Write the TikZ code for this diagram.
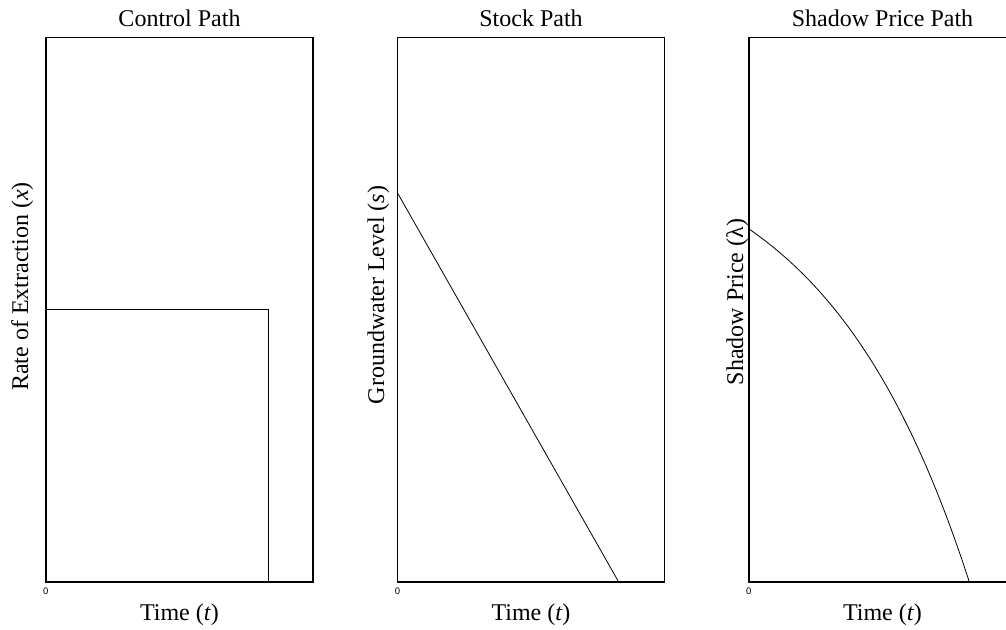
\documentclass[tikz,border=0pt]{standalone}
\usepackage{fontspec}
\setmainfont{Liberation Serif}
\newfontfamily\ticksans{Liberation Sans}
\begin{document}
\begin{tikzpicture}[x=1pt,y=-1pt,
  frame/.style={line width=1.3pt},
  curve/.style={line width=0.8pt},
  lbl/.style={inner sep=0pt, font=\fontsize{24}{28}\selectfont},
  tick/.style={inner sep=0pt, font=\ticksans\fontsize{9.5}{11}\selectfont}]
\useasboundingbox (0,0) rectangle (1006,629);
% frames
\draw[frame] (46,37.5) rectangle (313,582);
\draw[frame] (397.7,37.5) rectangle (664.3,582);
\draw[frame] (749,37.5) rectangle (1016,582);
% control path
\coordinate (c0) at (46,309.3);
\coordinate (c1) at (268.3,309.3);
\coordinate (c2) at (268.3,582);
\draw[curve] (c0) -- (c1) -- (c2);
% stock path
\coordinate (s0) at (397.7,193.3);
\coordinate (s1) at (618.7,582);
\draw[curve] (s0) -- (s1);
% shadow price path
\draw[curve] plot[domain=0:1, samples=50, smooth] ({749+220.3*\x}, {229+353*(exp(1.5*\x)-1)/3.4817});
% titles
\node[lbl, anchor=base] (t1) at (179.5,26.5) {Control Path};
\node[lbl, anchor=base] (t2) at (531,26.5) {Stock Path};
\node[lbl, anchor=base] (t3) at (882.5,26.5) {Shadow Price Path};
% x labels
\node[lbl, anchor=base] (x1) at (179.5,620) {Time (\textit{t})};
\node[lbl, anchor=base] (x2) at (531,620) {Time (\textit{t})};
\node[lbl, anchor=base] (x3) at (882.5,620) {Time (\textit{t})};
% y labels
\node[lbl, rotate=90, anchor=base] (y1) at (28,286.5) {Rate of Extraction (\textit{x})};
\node[lbl, rotate=90, anchor=base] (y2) at (384,295) {Groundwater Level (\textit{s})};
\node[lbl, rotate=90, anchor=base] (y3) at (743,302) {Shadow Price (λ)};
% zeros
\node[tick] (z1) at (45.8,591.7) {0};
\node[tick] (z2) at (397.5,591.7) {0};
\node[tick] (z3) at (748.8,591.7) {0};
\end{tikzpicture}
\end{document}
